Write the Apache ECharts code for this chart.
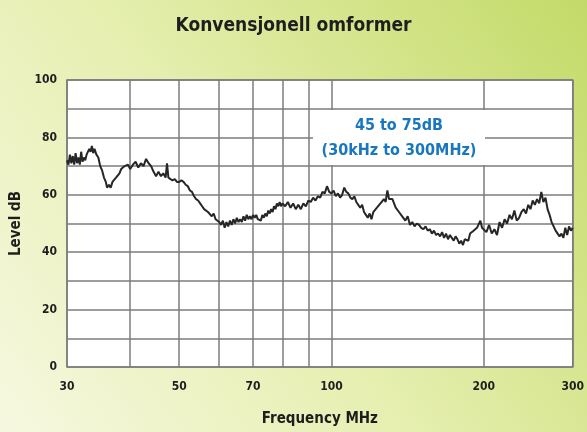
<!DOCTYPE html>
<html>
<head>
<meta charset="utf-8">
<script src="https://cdn.jsdelivr.net/npm/echarts@6/dist/echarts.min.js"></script>
<style>
  html, body { margin: 0; padding: 0; }
  #chart { width: 587px; height: 432px; }
</style>
</head>
<body>
<div id="chart"></div>
<script>
// frequency (MHz) / level (dB)
const freqs = [
  30, 30.2, 30.4, 30.6, 30.8, 31, 31.2, 31.4, 31.6, 31.8, 32, 32.2, 32.4, 32.6, 32.8, 33, 33.2, 33.4, 33.6, 33.8,
  34, 34.3, 34.6, 34.9, 35.2, 35.5, 35.8, 36, 36.3, 36.6, 36.9, 37.2, 37.5, 37.8, 38.1, 38.4, 38.7, 39, 39.3, 39.6,
  40, 40.5, 41, 41.5, 42, 42.5, 43, 43.5, 44, 44.5, 45, 45.5, 46, 46.5, 47, 47.3, 47.6, 48, 48.5, 49, 49.5,
  50, 50.5, 51, 51.5, 52, 52.5, 53, 53.5, 54, 54.5, 55, 55.5, 56, 56.5, 57, 57.5, 58, 58.5, 59, 59.5,
  60, 60.5, 61, 61.5, 62, 62.5, 63, 63.5, 64, 64.5, 65, 65.5, 66, 66.5, 67, 67.5, 68, 68.5, 69, 69.5,
  70, 70.5, 71, 71.5, 72, 72.5, 73, 73.5, 74, 74.5, 75, 75.5, 76, 76.5, 77, 77.5, 78, 78.5, 79, 79.5,
  80, 81, 82, 83, 84, 85, 86, 87, 88, 89, 90, 91, 92, 93, 94, 95, 96, 97, 98, 99,
  100, 101, 102, 103, 104, 105, 106, 107, 108, 109, 110, 111, 112, 113, 114, 115, 116, 117, 118, 119,
  120, 121, 122, 123, 124, 125, 126, 127, 128, 129, 130, 131, 132, 133, 134, 135, 136, 137, 138, 139,
  140, 141.5, 143, 144.5, 146, 147.5, 149, 150.5, 152, 153.5, 155, 156.5, 158, 159.5, 161, 162.5, 164, 165.5,
  167, 168.5, 170, 171.5, 173, 174.5, 176, 177.5, 179, 180.5, 182, 183.5, 185, 186.5, 188, 189.5, 191, 192.5,
  194, 195.5, 197, 198.5, 200, 202.5, 205, 207.5, 210, 212.5, 215, 217.5, 220, 222.5, 225, 227.5, 230, 232.5,
  235, 237.5, 240, 242.5, 245, 247.5, 250, 252.5, 255, 257.5, 260, 262.5, 265, 267.5, 270, 272.5, 275, 277.5,
  280, 282.5, 285, 287.5, 290, 292.5, 295, 297.5, 300
];
const levels = [
  72, 70.5, 74, 71, 73.5, 70.5, 74.5, 71, 73, 70.5, 75, 71.5, 73, 72, 74, 73.5, 76, 75, 77, 74.5,
  76, 74, 73, 70, 68.5, 66, 64.5, 62.5, 63.5, 62.5, 64.5, 64, 66, 66.5, 67.5, 69, 68.5, 70, 69.5, 70.5,
  69, 70.5, 71.5, 69.5, 71, 70, 72.5, 71, 70, 68, 66.5, 68, 66.5, 67.5, 66, 71, 66, 66.5, 65, 65.5, 64.5,
  64.5, 65, 64.5, 63.5, 63, 61.5, 61, 59.5, 58.5, 58, 57, 56, 55, 55.5, 54, 53.5, 52.5, 53.5, 51.5, 51,
  50.5, 49.5, 51, 48.5, 50.5, 49, 51, 49.5, 51.5, 50, 52, 50.5, 51.5, 50.5, 52.5, 51, 53, 51.5, 52.5, 51.5,
  53, 52, 53, 51.5, 52, 51, 53, 52, 53.5, 52.5, 54.5, 53.5, 55, 54, 56, 55, 57, 56, 57.5, 56,
  57, 56, 57.5, 55.5, 57, 55, 56.5, 55, 57, 56, 58, 57.5, 59, 58, 59.5, 59, 61, 60.5, 63, 61,
  60.5, 61.5, 59.5, 60.5, 59, 60, 62.5, 61, 60.5, 59, 58.5, 59.5, 57.5, 58, 55.5, 56.5, 54, 53, 52, 53.5,
  51.5, 54, 53.5, 55.5, 55, 57, 57.5, 58.5, 57.5, 61.5, 58.5, 59, 58.5, 57, 55.5, 56, 54, 53.5, 52.5, 53,
  51, 52.5, 49.5, 50.5, 49, 50, 49.5, 48.5, 48, 49, 47.5, 48, 46.5, 47.5, 46, 46.5, 45.5, 47,
  45, 46.5, 44.5, 46, 45, 44, 45.5, 44.5, 43, 44, 42.5, 44.5, 45, 44, 46.5, 46, 47.5, 47,
  48.5, 48, 51, 48.5, 48, 47, 49.5, 46.5, 48, 46, 50.5, 48.5, 51.5, 50, 53, 51.5, 54.5, 51,
  52, 54, 55, 53.5, 56.5, 55, 58, 56.5, 58.5, 57, 61, 57.5, 59, 55, 53, 50.5, 49, 47.5,
  47.5, 45.5, 46.5, 45, 48.5, 46, 49, 47.5, 48.5
];
const freqGridValues = [30, 40, 50, 60, 70, 80, 90, 100, 200, 300];
const freqLabelValues = [30, 50, 70, 100, 200, 300];

const chart = echarts.init(document.getElementById('chart'));

const gridColor = '#7d7d7d';
const labelFont = 'DejaVu Sans Condensed';

const option = {
  backgroundColor: {
    type: 'linear', x: 0, y: 1, x2: 1, y2: 0,
    colorStops: [
      { offset: 0, color: '#f6f8e0' },
      { offset: 0.45, color: '#e6efb0' },
      { offset: 1, color: '#c3da68' }
    ]
  },
  title: {
    text: 'Konvensjonell omformer',
    left: 'center',
    top: 12,
    textStyle: {
      fontFamily: labelFont,
      fontSize: 19,
      fontWeight: 'bold',
      color: '#1e1e1e'
    }
  },
  grid: {
    left: 67, right: 10, top: 80, bottom: 62,
    show: true,
    backgroundColor: '#ffffff',
    borderColor: gridColor,
    borderWidth: 1.5
  },
  xAxis: {
    type: 'log',
    logBase: 10,
    min: 30,
    max: 300,
    name: 'Frequency MHz',
    nameLocation: 'middle',
    nameGap: 45,
    nameTextStyle: { fontFamily: labelFont, fontWeight: 'bold', fontSize: 15, color: '#1e1e1e' },
    axisLine: { show: false },
    axisTick: { show: false, customValues: freqGridValues },
    axisLabel: {
      customValues: freqLabelValues,
      margin: 14,
      fontFamily: labelFont, fontWeight: 'bold', fontSize: 12, color: '#1e1e1e'
    },
    splitLine: { show: true, lineStyle: { color: gridColor, width: 1.5 } }
  },
  yAxis: {
    type: 'value',
    min: 0,
    max: 100,
    interval: 10,
    name: 'Level dB',
    nameLocation: 'middle',
    nameGap: 40,
    nameTextStyle: { fontFamily: labelFont, fontWeight: 'bold', fontSize: 15, color: '#1e1e1e' },
    axisLine: { show: false },
    axisTick: { show: false },
    axisLabel: {
      margin: 10,
      fontFamily: labelFont, fontWeight: 'bold', fontSize: 12, color: '#1e1e1e',
      formatter: v => (v % 20 === 0 ? String(v) : '')
    },
    splitLine: { show: true, lineStyle: { color: gridColor, width: 1.5 } }
  },
  graphic: [
    {
      type: 'rect',
      z: 100,
      shape: { x: 313, y: 110, width: 172, height: 55 },
      style: { fill: '#ffffff' }
    },
    {
      type: 'text',
      z: 101,
      x: 399, y: 126,
      style: {
        text: '45 to 75dB',
        align: 'center', verticalAlign: 'middle',
        font: 'bold 16px "DejaVu Sans Condensed"',
        fill: '#1877be'
      }
    },
    {
      type: 'text',
      z: 101,
      x: 399, y: 151,
      style: {
        text: '(30kHz to 300MHz)',
        align: 'center', verticalAlign: 'middle',
        font: 'bold 16px "DejaVu Sans Condensed"',
        fill: '#1877be'
      }
    }
  ],
  series: [
    {
      type: 'line',
      data: freqs.map((f, i) => [f, levels[i]]),
      showSymbol: false,
      smooth: false,
      lineStyle: { color: '#262626', width: 2 },
      z: 5
    }
  ]
};

chart.setOption(option);
</script>
</body>
</html>
